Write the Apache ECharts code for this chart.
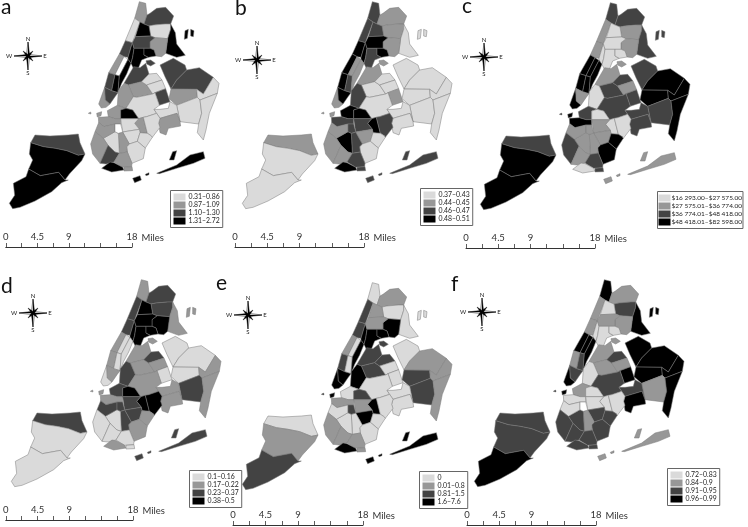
<!DOCTYPE html>
<html><head><meta charset="utf-8">
<style>html,body{margin:0;padding:0;background:#fff}#c{width:748px;height:527px}</style>
<script src="https://cdn.jsdelivr.net/npm/echarts@6/dist/echarts.min.js"></script>
</head><body><div id="c"></div>
<script>
// Base map outlines (the map's geography, one entry per neighbourhood)
const shapes = {
 m1:[[[418,5],[437,10],[441,45],[432,72],[420,66],[404,55]]],
 m2:[[[404,55],[420,66],[397,128],[376,122]]],
 m3:[[[376,122],[397,128],[384,172],[372,170],[358,162]]],
 m4:[[[358,162],[372,170],[345,224],[326,218]]],
 m5:[[[372,170],[384,178],[358,228],[345,224]]],
 m6:[[[326,218],[345,224],[335,272],[314,262]]],
 m7:[[[345,224],[358,228],[354,278],[335,272]]],
 m8:[[[314,262],[316,300],[330,312],[318,322],[304,324],[296,312]]],
 m9:[[[314,262],[335,272],[354,278],[345,290],[330,312],[316,300]]],
 m10:[[[397,128],[402,145],[398,172],[393,190],[384,178],[384,172]]],
 m11:[[[358,228],[384,178],[393,190],[380,222],[365,250],[354,278]]],
 x1:[[[450,40],[470,25],[497,22],[521,48],[512,72],[497,72],[462,75],[447,78],[432,72],[441,45]]],
 x2:[[[447,78],[462,75],[497,72],[512,72],[512,88],[503,116],[465,113],[452,108]]],
 x3:[[[512,72],[526,98],[530,132],[556,166],[530,172],[497,160],[503,116],[512,88]],[[555,92],[565,88],[562,115],[553,118]],[[572,88],[582,92],[580,110],[572,108]]],
 x4:[[[450,125],[465,113],[503,116],[497,160],[485,170],[468,168],[462,150],[450,145]]],
 x5:[[[420,66],[432,72],[447,78],[452,108],[406,110]]],
 x6:[[[406,110],[452,108],[465,113],[450,125],[450,145],[402,145],[397,128]]],
 x7:[[[402,145],[432,145],[432,165],[445,172],[425,180],[415,205],[400,205],[393,190],[398,172]]],
 x8:[[[432,145],[450,145],[462,150],[468,168],[445,172],[432,165]]],
 r1:[[[438,182],[452,180],[466,190],[452,198],[440,192]]],
 q1:[[[401,200],[420,203],[437,190],[447,222],[425,245],[385,255],[372,250]]],
 q2:[[[385,255],[425,245],[440,255],[458,282],[410,292],[400,290]]],
 q3:[[[447,222],[470,220],[486,240],[440,255],[425,245]]],
 q4:[[[440,255],[486,240],[497,266],[465,278],[458,282]]],
 q5:[[[465,278],[497,266],[510,305],[478,316]]],
 q6:[[[355,272],[372,250],[385,255],[400,290],[378,325],[352,316]]],
 q7:[[[400,290],[410,292],[458,282],[465,278],[478,316],[462,328],[470,340],[440,350],[430,352],[416,356],[398,330],[378,325]]],
 q8:[[[480,195],[520,175],[555,195],[560,210],[530,240],[513,267],[495,230]]],
 q9:[[[560,210],[598,203],[640,232],[610,282],[590,268],[513,267],[530,240]]],
 q10:[[[513,267],[590,268],[592,292],[530,316],[507,296]]],
 q11:[[[640,232],[657,250],[652,280],[600,300],[592,292],[590,268],[610,282]]],
 q12:[[[530,316],[592,292],[600,300],[605,340],[596,372],[540,365]]],
 q13:[[[600,300],[652,280],[628,340],[618,390],[610,420],[592,398],[596,372],[605,340]]],
 q14:[[[462,328],[480,328],[505,325],[510,305],[530,316],[540,365],[531,340],[480,355],[470,340]]],
 q15:[[[480,355],[531,340],[540,365],[542,378],[505,385],[498,405],[480,398],[476,370]]],
 k1:[[[322,332],[352,316],[378,325],[362,330],[362,356],[345,356],[325,350]]],
 k2:[[[295,352],[325,350],[345,356],[362,356],[362,372],[345,372],[312,380],[296,368]]],
 k3:[[[362,330],[378,325],[398,330],[416,356],[362,356]]],
 k4:[[[416,356],[430,352],[442,400],[420,398],[418,388],[404,370]]],
 k5:[[[362,356],[416,356],[404,370],[418,388],[368,396]]],
 k6:[[[430,352],[440,350],[470,340],[480,355],[476,370],[480,382],[457,412],[452,406],[442,400]]],
 k7:[[[368,396],[418,388],[420,398],[412,424],[388,432]]],
 k8:[[[420,398],[442,400],[452,406],[457,412],[436,444],[412,424]]],
 k9:[[[388,432],[412,424],[436,444],[430,476],[396,490],[382,456],[380,440]]],
 k10:[[[355,400],[368,396],[388,432],[380,440],[382,456],[358,460]]],
 k11:[[[310,415],[345,395],[355,400],[358,460],[345,456],[324,436]]],
 k12:[[[285,395],[296,368],[312,380],[345,372],[345,395],[310,415]]],
 k13:[[[272,432],[285,395],[310,415],[324,436],[300,490],[278,462]]],
 k14:[[[324,436],[345,456],[358,460],[342,486],[318,492],[300,490]]],
 k15:[[[358,460],[382,456],[396,490],[395,500],[368,502],[342,486]]],
 k16:[[[305,505],[330,486],[342,488],[368,502],[372,510],[335,516]]],
 k17:[[[372,502],[396,500],[398,512],[372,513]]],
 pp:[[[345,372],[362,372],[368,396],[355,400],[345,395]]],
 s1:[[[92,428],[105,405],[150,408],[205,405],[235,402],[240,428],[255,462],[235,466],[200,452],[165,445],[130,440]]],
 s2:[[[92,428],[130,440],[165,445],[200,452],[235,466],[255,462],[245,482],[208,522],[195,540],[176,517],[121,527],[86,507],[98,480],[88,462]]],
 s3:[[[86,507],[121,527],[176,517],[195,540],[205,540],[185,548],[155,575],[105,603],[60,622],[38,626],[28,610],[44,586],[40,550],[78,530]]],
 rk:[[[470,520],[530,495],[570,465],[610,455],[615,475],[580,490],[530,505],[478,521]],[[508,480],[518,455],[530,452],[522,480]],[[398,535],[420,527],[424,540],[404,548]],[[436,523],[447,518],[447,524],[438,527]]],
 gv:[[[290,340],[305,335],[303,347],[292,351]],[[265,340],[272,336],[273,342]]]
};

const regions = ['m1','m2','m3','m4','m5','m6','m7','m8','m9','m10','m11',
 'x1','x2','x3','x4','x5','x6','x7','x8','r1',
 'q1','q2','q3','q4','q5','q6','q7','q8','q9','q10','q11','q12','q13','q14','q15',
 'k1','k2','k3','k4','k5','k6','k7','k8','k9','k10','k11','k12','k13','k14','k15','k16','k17','pp',
 's1','s2','s3','rk','gv'];

// Legend class of each region per panel (1 lightest .. 4 black, 0 = no fill)
const classA = [2,1,3,2,0,3,4,2,3,4,4, 3,1,4,2,4,3,4,4,3, 3,2,1,1,3,2,1,3,3,2,1,1,1,1,2, 2,2,4,2,1,1,1,1,1,2,1,2,2,3,2,4,2,0, 3,4,4,4,2];
const classB = [3,3,4,4,2,4,3,2,4,4,2, 2,2,1,2,3,4,3,4,2, 2,1,1,1,2,3,1,1,1,1,1,1,1,1,1, 4,3,4,4,3,3,2,1,1,3,4,2,2,2,3,4,3,3, 2,1,1,3,2];
const classC = [3,2,2,4,4,4,4,4,2,1,4, 3,2,3,2,1,1,1,1,2, 2,3,3,2,3,1,3,3,4,4,4,3,4,3,3, 3,4,1,1,2,1,2,4,4,2,2,2,3,2,3,1,3,2, 3,4,4,2,4];
const classD = [2,3,3,2,1,2,1,1,2,4,1, 3,3,2,4,4,4,4,4,2, 2,2,3,2,1,3,2,1,1,1,2,3,2,2,2, 3,2,4,4,3,4,3,2,2,3,1,3,1,1,1,2,1,3, 3,1,1,3,2];
const classE = [1,3,3,2,1,3,1,4,4,4,4, 2,1,1,4,2,2,4,4,3, 3,3,3,1,1,4,1,1,2,3,2,3,2,1,1, 1,2,3,4,2,1,4,1,1,1,1,1,2,2,2,4,2,3, 1,2,3,4,4];
const classF = [4,2,2,4,4,2,3,4,3,1,4, 2,3,4,2,1,2,1,1,2, 2,2,3,2,4,1,3,4,4,4,4,2,4,3,4, 2,1,1,1,1,1,3,3,3,2,3,1,3,3,3,3,3,0, 3,3,4,2,4];

const labelsA = ['0.31–0.86','0.87–1.09','1.10–1.30','1.31–2.72'];
const labelsB = ['0.37–0.43','0.44–0.45','0.46–0.47','0.48–0.51'];
const labelsC = ['$16 293.00–$27 575.00','$27 575.01–$36 774.00','$36 774.01–$48 418.00','$48 418.01–$82 598.00'];
const labelsD = ['0.1–0.16','0.17–0.22','0.23–0.37','0.38–0.5'];
const labelsE = ['0','0.01–0.8','0.81–1.5','1.6–7.6'];
const labelsF = ['0.72–0.83','0.84–0.9','0.91–0.95','0.96–0.99'];
const panelNames = ['a','b','c','d','e','f'];
const scaleTicks = [0,4.5,9,18];
const classColors = ['#dadada','#979797','#434343','#000000'];

const geo = {type:'FeatureCollection',features:regions.map(n=>({type:'Feature',properties:{name:n},
  geometry:{type:'Polygon',coordinates:shapes[n]}}))};
geo.features.forEach(f=>{ if(shapes[f.properties.name].length>1){
  f.geometry={type:'MultiPolygon',coordinates:shapes[f.properties.name].map(r=>[r])}; }});
panelNames.forEach(n=>echarts.registerMap('nyc'+n,JSON.parse(JSON.stringify(geo))));

const identity={project:p=>p,unproject:p=>p};
const panels=[
 {cls:classA,lab:labelsA,dx:0,dy:0,title:[1,-3],comp:[28,56],bar:[3,132,247],leg:[170,190]},
 {cls:classB,lab:labelsB,dx:233,dy:0,title:[235,-2],comp:[257,60],bar:[235,364,247],leg:[420,188]},
 {cls:classC,lab:labelsC,dx:471,dy:1,title:[462,-4],comp:[484,57],bar:[466,595,248],leg:[657,191]},
 {cls:classD,lab:labelsD,dx:2,dy:278,title:[1,276],comp:[33,313],bar:[4,133,520],leg:[189,470]},
 {cls:classE,lab:labelsE,dx:233,dy:281,title:[216,273],comp:[248,315],bar:[233,363,525],leg:[419,471]},
 {cls:classF,lab:labelsF,dx:465,dy:278,title:[451,274],comp:[482,312],bar:[467,596,525],leg:[667,468]}
];
const font='Lato';
const series=[],visualMap=[],grid=[],xAxis=[],yAxis=[],title=[],graphic=[];

function compass(cx,cy){
  const poly=(pts,fill)=>({type:'polygon',shape:{points:pts},style:{fill,stroke:'#000',lineWidth:0.4},silent:true});
  const L=14,w=1.6,d=5;
  const kids=[
   poly([[0,-L],[w,-w],[0,0]],'#000'),poly([[0,-L],[-w,-w],[0,0]],'#fff'),
   poly([[0,L],[-w,w],[0,0]],'#000'),poly([[0,L],[w,w],[0,0]],'#fff'),
   poly([[L,0],[w,w],[0,0]],'#000'),poly([[L,0],[w,-w],[0,0]],'#fff'),
   poly([[-L,0],[-w,-w],[0,0]],'#000'),poly([[-L,0],[-w,w],[0,0]],'#fff'),
   poly([[d,-d],[w,0],[0,0],[0,-w]],'#000'),poly([[-d,d],[-w,0],[0,0],[0,w]],'#000'),
   poly([[d,d],[w,0],[0,0],[0,w]],'#000'),poly([[-d,-d],[-w,0],[0,0],[0,-w]],'#000')
  ];
  [['N',0,-17],['S',0,17],['E',17,0],['W',-19,0]].forEach(t=>kids.push({type:'text',x:t[1],y:t[2],
    style:{text:t[0],font:'6px '+font,fill:'#222',align:'center',verticalAlign:'middle'},silent:true}));
  return {type:'group',x:cx,y:cy,children:kids};
}

// map bounding box
let xs=[],ys=[];Object.values(shapes).forEach(p=>p.forEach(r=>r.forEach(c=>{xs.push(c[0]);ys.push(c[1]);})));
const minX=Math.min(...xs),maxX=Math.max(...xs),minY=Math.min(...ys),maxY=Math.max(...ys);

panels.forEach((p,i)=>{
  series.push({type:'map',map:'nyc'+panelNames[i],projection:identity,roam:false,silent:true,
    layoutCenter:[(minX+maxX)/6+p.dx,(minY+maxY)/6+p.dy],layoutSize:(maxX-minX)/3,
    label:{show:false},emphasis:{disabled:true},select:{disabled:true},selectedMode:false,
    itemStyle:{borderColor:'#7a7a7a',borderWidth:0.5},
    data:regions.map((n,j)=>({name:n,value:p.cls[j]}))});
  visualMap.push({type:'piecewise',seriesIndex:i,left:p.leg[0],top:p.leg[1],orient:'vertical',align:'left',inverse:true,
    selectedMode:false,hoverLink:false,itemWidth:12,itemHeight:7,itemGap:1,textGap:i==2?1:3,padding:i==2?[3,1,3,1]:[3,3,3,3],
    borderColor:'#666',borderWidth:1,backgroundColor:'#fff',itemSymbol:'rect',
    textStyle:{fontFamily:font,fontSize:i==2?6.5:6.9,color:'#222'},
    pieces:p.lab.map((t,k)=>({value:k+1,label:t,color:classColors[k]})),
    outOfRange:{color:'#fff'}});
  grid.push({left:p.bar[0],width:p.bar[1]-p.bar[0],top:p.bar[2]-1,height:1,containLabel:false});
  xAxis.push({type:'value',gridIndex:i,min:0,max:18,interval:2.25,position:'bottom',
    axisLine:{show:true,lineStyle:{color:'#333',width:1}},
    axisTick:{show:true,inside:true,length:4,lineStyle:{color:'#333',width:0.8}},
    splitLine:{show:false},
    axisLabel:{show:true,inside:true,margin:5,hideOverlap:false,showMinLabel:true,showMaxLabel:true,
      color:'#333',fontFamily:font,fontSize:9.5,
      formatter:v=>scaleTicks.includes(v)?String(v):''},
    name:'Miles',nameLocation:'end',nameGap:2,
    nameTextStyle:{color:'#333',fontFamily:font,fontSize:9.5,verticalAlign:'bottom',padding:[0,0,4,0],align:'left'}});
  yAxis.push({type:'value',gridIndex:i,show:false,min:0,max:1});
  title.push({text:panelNames[i],left:p.title[0],top:p.title[1],padding:0,
    textStyle:{fontFamily:font,fontSize:21,fontWeight:'normal',color:'#111'}});
  graphic.push(compass(p.comp[0],p.comp[1]));
});

const chart=echarts.init(document.getElementById('c'),null,{renderer:'canvas'});
chart.setOption({animation:false,backgroundColor:'#fff',title,grid,xAxis,yAxis,visualMap,series,graphic:{elements:graphic}});
</script></body></html>
